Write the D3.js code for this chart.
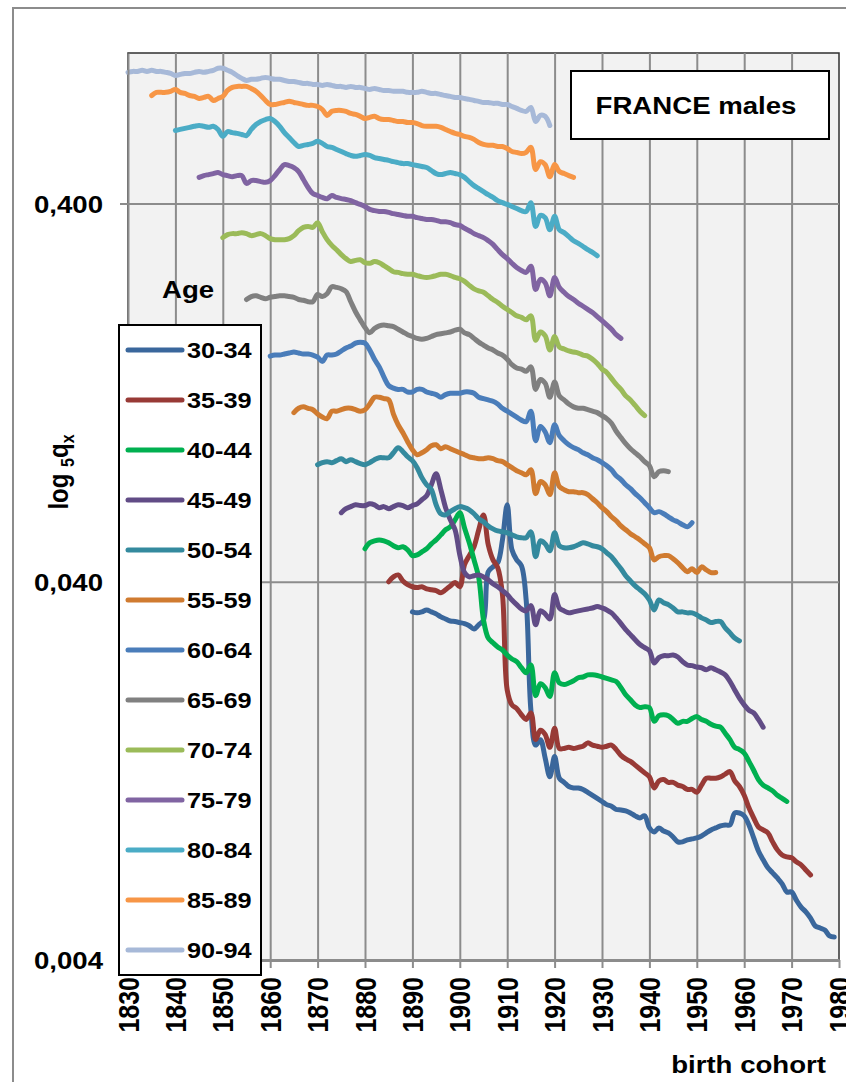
<!DOCTYPE html>
<html>
<head>
<meta charset="utf-8">
<script src="https://cdn.jsdelivr.net/npm/d3@7"></script>
<style>
  html, body { margin: 0; padding: 0; background: #ffffff; }
  svg { display: block; font-family: "Liberation Sans", Arial, sans-serif; font-weight: bold; }
</style>
</head>
<body>
<svg id="chart" width="846" height="1082"></svg>
<script>
// Age groups, first birth cohort of each series, and line colours
const ageGroups = ["30-34","35-39","40-44","45-49","50-54","55-59","60-64","65-69","70-74","75-79","80-84","85-89","90-94"];
const firstCohort = [1890,1885,1880,1875,1870,1865,1860,1855,1850,1845,1840,1835,1830];
const seriesColors = ["#3A679C","#983A36","#00B050","#614C86","#348A9E","#D07B30","#4A7DBA","#808080","#9BBB59","#8064A2","#4BACC6","#F79646","#A7B9D8"];

// 5qx by birth cohort (one value per cohort year, from firstCohort onwards)
const q30_34 = [
  .0333,.0331,.0333,.0337,.0333,.0329,.0323,.0319,.0315,.0314,
  .0312,.0310,.0306,.0300,.0308,.0317,.0425,.0438,.0449,.0516,
  .0639,.0486,.0457,.0441,.0358,.0183,.0148,.0153,.0137,.0122,
  .0138,.0121,.0118,.0115,.0114,.0114,.0113,.0111,.0109,.0107,
  .0105,.0103,.0102,.0100,.00997,.00991,.00979,.00962,.00950,.00962,
  .00894,.00872,.00894,.00877,.00867,.00846,.00821,.00821,.00831,.00836,
  .00841,.00851,.00867,.00883,.00894,.00905,.00910,.00910,.00979,.00979,
  .00962,.00910,.00841,.00777,.00736,.00701,.00680,.00659,.00636,.00605,
  .00605,.00576,.00552,.00536,.00516,.00492,.00486,.00480,.00463,.00460];
const q35_39 = [
  .0400,.0412,.0417,.0402,.0393,
  .0388,.0386,.0388,.0383,.0381,.0379,.0374,.0381,.0390,.0398,
  .0388,.0444,.0469,.0495,.0549,.0601,.0501,.0457,.0436,.0370,
  .0207,.0189,.0185,.0178,.0173,.0180,.0153,.0162,.0158,.0146,
  .0164,.0145,.0145,.0146,.0145,.0146,.0147,.0150,.0148,.0147,
  .0146,.0147,.0148,.0144,.0139,.0136,.0134,.0131,.0128,.0125,
  .0122,.0114,.0119,.0120,.0118,.0118,.0116,.0115,.0113,.0113,
  .0111,.0116,.0121,.0121,.0121,.0122,.0124,.0126,.0119,.0115,
  .0109,.0101,.00950,.00899,.00883,.00867,.00821,.00782,.00758,.00749,
  .00745,.00727,.00714,.00692,.00671];
const q40_44 = [
  .0489,.0507,.0513,.0516,.0513,.0507,.0498,.0492,.0495,.0486,
  .0469,.0471,.0480,.0489,.0504,.0516,.0532,.0549,.0559,.0583,
  .0609,.0555,.0507,.0457,.0410,.0317,.0284,.0276,.0269,.0264,
  .0256,.0250,.0246,.0237,.0230,.0241,.0200,.0215,.0210,.0199,
  .0230,.0216,.0214,.0216,.0219,.0223,.0224,.0227,.0227,.0226,
  .0224,.0222,.0220,.0218,.0210,.0201,.0195,.0189,.0186,.0187,
  .0186,.0171,.0177,.0178,.0177,.0173,.0169,.0171,.0171,.0174,
  .0176,.0173,.0171,.0168,.0166,.0165,.0159,.0153,.0146,.0144,
  .0141,.0134,.0127,.0120,.0116,.0114,.0112,.0109,.0107,.0105];
const q45_49 = [
  .0609,.0624,.0632,.0639,.0636,
  .0636,.0643,.0639,.0628,.0632,.0624,.0632,.0639,.0636,.0628,
  .0636,.0643,.0659,.0675,.0722,.0772,.0701,.0628,.0583,.0549,
  .0471,.0423,.0412,.0415,.0417,.0412,.0405,.0395,.0388,.0379,
  .0370,.0358,.0348,.0339,.0335,.0346,.0308,.0335,.0329,.0319,
  .0370,.0341,.0335,.0331,.0333,.0335,.0337,.0339,.0341,.0344,
  .0341,.0337,.0331,.0321,.0310,.0299,.0290,.0281,.0273,.0268,
  .0263,.0244,.0252,.0255,.0255,.0256,.0253,.0246,.0241,.0240,
  .0238,.0237,.0234,.0237,.0234,.0231,.0227,.0218,.0207,.0197,
  .0189,.0183,.0180,.0173,.0165];
const q50_54 = [
  .0816,.0826,.0831,.0826,.0836,.0846,.0831,.0841,.0831,.0821,
  .0816,.0826,.0841,.0851,.0851,.0851,.0877,.0905,.0883,.0856,
  .0836,.0801,.0754,.0722,.0701,.0639,.0605,.0601,.0613,.0624,
  .0632,.0628,.0620,.0605,.0587,.0576,.0562,.0552,.0545,.0542,
  .0539,.0532,.0526,.0523,.0523,.0542,.0466,.0513,.0504,.0483,
  .0539,.0498,.0492,.0492,.0495,.0501,.0507,.0504,.0498,.0495,
  .0489,.0477,.0466,.0449,.0433,.0415,.0402,.0390,.0381,.0372,
  .0358,.0337,.0358,.0352,.0348,.0341,.0333,.0333,.0331,.0331,
  .0327,.0321,.0317,.0312,.0314,.0314,.0302,.0293,.0284,.0279];
const q55_59 = [
  .112,.115,.116,.115,.114,
  .111,.109,.108,.113,.113,.114,.115,.115,.114,.113,
  .114,.118,.123,.123,.122,.121,.111,.104,.0991,.0938,
  .0894,.0867,.0877,.0894,.0916,.0921,.0899,.0910,.0899,.0888,
  .0877,.0867,.0856,.0851,.0846,.0846,.0851,.0846,.0836,.0831,
  .0816,.0801,.0786,.0777,.0767,.0791,.0684,.0736,.0722,.0680,
  .0777,.0714,.0701,.0692,.0692,.0688,.0688,.0680,.0663,.0647,
  .0628,.0613,.0594,.0580,.0562,.0549,.0536,.0526,.0516,.0504,
  .0492,.0457,.0466,.0469,.0469,.0460,.0449,.0436,.0425,.0433,
  .0423,.0438,.0430,.0423,.0423];
const q60_64 = [
  .158,.159,.159,.160,.161,.162,.161,.160,.160,.159,
  .157,.153,.159,.159,.160,.163,.166,.168,.171,.172,
  .171,.164,.155,.148,.139,.132,.130,.129,.129,.127,
  .127,.129,.129,.127,.126,.125,.123,.125,.126,.126,
  .126,.127,.127,.126,.123,.122,.121,.120,.118,.115,
  .113,.111,.109,.107,.106,.113,.0944,.103,.0997,.0933,
  .104,.0973,.0944,.0921,.0905,.0894,.0877,.0867,.0851,.0841,
  .0826,.0811,.0791,.0763,.0745,.0722,.0705,.0684,.0667,.0647,
  .0628,.0609,.0613,.0605,.0594,.0583,.0576,.0566,.0559,.0573];
const q65_69 = [
  .223,.227,.228,.226,.224,
  .226,.227,.228,.228,.227,.226,.223,.222,.220,.220,
  .230,.227,.231,.241,.240,.238,.234,.220,.207,.197,
  .188,.182,.187,.190,.191,.190,.189,.186,.183,.180,
  .178,.176,.175,.176,.178,.180,.181,.182,.183,.185,
  .186,.182,.180,.176,.172,.169,.166,.164,.161,.159,
  .155,.150,.147,.146,.144,.148,.129,.137,.134,.123,
  .135,.124,.121,.118,.116,.115,.115,.114,.113,.112,
  .110,.108,.105,.100,.0962,.0927,.0899,.0877,.0856,.0831,
  .0811,.0758,.0782,.0786,.0782];
const q70_74 = [
  .325,.331,.333,.333,.335,.333,.329,.331,.333,.329,
  .323,.321,.321,.321,.323,.329,.339,.346,.348,.346,
  .356,.337,.321,.310,.302,.293,.286,.281,.283,.284,
  .279,.278,.281,.279,.274,.269,.264,.263,.261,.260,
  .260,.258,.256,.255,.256,.258,.260,.260,.258,.255,
  .253,.249,.243,.238,.235,.233,.228,.223,.219,.214,
  .210,.206,.202,.200,.197,.202,.174,.183,.179,.164,
  .178,.167,.165,.163,.162,.161,.159,.158,.155,.151,
  .146,.143,.138,.133,.129,.124,.121,.117,.113,.110];
const q75_79 = [
  .469,.474,.477,.480,.483,
  .477,.474,.471,.474,.474,.452,.460,.460,.457,.455,
  .460,.474,.492,.507,.504,.498,.486,.463,.441,.425,
  .420,.415,.412,.420,.415,.412,.410,.407,.402,.398,
  .393,.386,.383,.381,.381,.379,.376,.374,.372,.370,
  .370,.367,.365,.363,.363,.361,.358,.358,.356,.352,
  .350,.344,.339,.333,.329,.325,.319,.312,.302,.293,
  .286,.278,.271,.266,.263,.273,.237,.252,.247,.228,
  .255,.240,.233,.227,.223,.218,.214,.210,.206,.201,
  .196,.191,.186,.180,.176];
const q80_84 = [
  .624,.628,.632,.636,.640,.643,.640,.636,.640,.628,
  .602,.620,.616,.613,.609,.605,.628,.647,.659,.667,
  .671,.659,.640,.616,.598,.580,.566,.570,.573,.577,
  .584,.577,.566,.563,.556,.549,.542,.536,.533,.536,
  .539,.536,.529,.526,.523,.520,.516,.513,.510,.510,
  .507,.504,.501,.498,.489,.480,.477,.480,.483,.480,
  .477,.469,.457,.446,.438,.430,.422,.415,.407,.402,
  .398,.393,.388,.383,.381,.402,.348,.372,.367,.341,
  .370,.341,.335,.327,.319,.314,.308,.302,.297,.291];
const q85_89 = [
  .772,.787,.787,.787,.792,
  .801,.787,.782,.772,.768,.758,.763,.768,.749,.758,
  .768,.796,.811,.816,.816,.816,.806,.792,.772,.749,
  .731,.731,.736,.740,.745,.740,.736,.731,.727,.727,
  .722,.709,.684,.701,.705,.705,.701,.692,.688,.680,
  .671,.676,.680,.671,.667,.667,.663,.659,.659,.655,
  .655,.651,.643,.640,.640,.640,.636,.628,.620,.613,
  .609,.602,.598,.591,.580,.573,.570,.570,.566,.566,
  .559,.549,.546,.542,.546,.563,.492,.516,.507,.471,
  .507,.486,.480,.474,.469];
const q90_94 = [
  .889,.894,.894,.900,.894,.900,.894,.894,.889,.883,
  .872,.878,.883,.883,.889,.894,.889,.894,.900,.911,
  .911,.900,.889,.872,.857,.846,.852,.852,.857,.862,
  .857,.852,.852,.846,.841,.841,.836,.831,.831,.826,
  .826,.821,.826,.821,.816,.816,.811,.816,.811,.811,
  .806,.801,.806,.801,.796,.796,.792,.792,.792,.787,
  .787,.787,.792,.787,.782,.782,.777,.772,.768,.763,
  .763,.758,.754,.749,.745,.740,.740,.736,.736,.731,
  .731,.722,.714,.705,.701,.718,.659,.684,.680,.643];

const ageSeries = [q30_34,q35_39,q40_44,q45_49,q50_54,q55_59,q60_64,q65_69,q70_74,q75_79,q80_84,q85_89,q90_94];

// Axis ticks
const xTickValues = [1830,1840,1850,1860,1870,1880,1890,1900,1910,1920,1930,1940,1950,1960,1970,1980];
const yTickValues = [0.004, 0.04, 0.4];
const yTickLabels = ["0,004","0,040","0,400"];
const yGridValues = [0.04, 0.4];

// ---------- drawing ----------
const svg = d3.select("#chart");
const plot = { left: 128, right: 839, top: 53, bottom: 960 };
const STRETCH = 1.15;            // text is drawn slightly wide
const gridColor = "#8c8c8c";

const x = d3.scaleLinear().domain([1830, 1980]).range([plot.left, plot.right]);
const y = d3.scaleLog().domain([0.004, 1]).range([plot.bottom, plot.top]);

// outer frame of the figure
svg.append("rect")
  .attr("x", 13).attr("y", 8).attr("width", 900).attr("height", 1100)
  .attr("fill", "#ffffff").attr("stroke", "#8c8c8c").attr("stroke-width", 2);

// plot area
svg.append("rect")
  .attr("x", plot.left).attr("y", plot.top)
  .attr("width", plot.right - plot.left).attr("height", plot.bottom - plot.top)
  .attr("fill", "#f2f2f2").attr("stroke", "#303030").attr("stroke-width", 1.5);

// vertical grid lines
svg.append("g")
  .attr("transform", `translate(0,${plot.bottom})`)
  .call(d3.axisBottom(x).tickValues(xTickValues.slice(1, -1))
    .tickSize(-(plot.bottom - plot.top)).tickSizeOuter(0).tickFormat(""))
  .call(g => g.select(".domain").remove())
  .selectAll("line").attr("stroke", gridColor).attr("stroke-width", 2);

// horizontal grid lines
svg.append("g")
  .attr("transform", `translate(${plot.left},0)`)
  .call(d3.axisLeft(y).tickValues(yGridValues)
    .tickSize(-(plot.right - plot.left)).tickSizeOuter(0).tickFormat(""))
  .call(g => g.select(".domain").remove())
  .selectAll("line").attr("stroke", gridColor).attr("stroke-width", 2);

// cohort lines
const line = d3.line()
  .x(d => x(d.year))
  .y(d => y(d.q))
  .curve(d3.curveCatmullRom.alpha(0.5));

const seriesData = ageSeries.map((vals, i) =>
  vals.map((q, j) => ({ year: firstCohort[i] + j, q })));

svg.append("g").selectAll("path")
  .data(seriesData)
  .join("path")
  .attr("d", line)
  .attr("fill", "none")
  .attr("stroke", (d, i) => seriesColors[i])
  .attr("stroke-width", 5)
  .attr("stroke-linejoin", "round")
  .attr("stroke-linecap", "round");

// y axis
const yAxis = svg.append("g")
  .attr("transform", `translate(${plot.left},0)`)
  .call(d3.axisLeft(y).tickValues(yTickValues)
    .tickFormat((d, i) => yTickLabels[i]).tickSize(8).tickSizeOuter(0));
yAxis.select(".domain").attr("stroke", gridColor).attr("stroke-width", 2);
yAxis.selectAll(".tick line").attr("stroke", gridColor).attr("stroke-width", 2);
yAxis.selectAll(".tick text")
  .attr("x", null).attr("dy", null)
  .attr("transform", `translate(-25,8.5) scale(${STRETCH},1)`)
  .attr("text-anchor", "end")
  .attr("fill", "#000").attr("font-size", 24)
  .attr("font-family", "'Liberation Sans', Arial, sans-serif").attr("font-weight", "bold");

// x axis
const xAxis = svg.append("g")
  .attr("transform", `translate(0,${plot.bottom})`)
  .call(d3.axisBottom(x).tickValues(xTickValues)
    .tickFormat(d3.format("d")).tickSize(8).tickSizeOuter(0));
xAxis.select(".domain").attr("stroke", gridColor).attr("stroke-width", 3);
xAxis.selectAll(".tick line").attr("stroke", gridColor).attr("stroke-width", 2);
xAxis.selectAll(".tick text")
  .attr("y", null).attr("dy", null)
  .attr("transform", `translate(10,17) scale(${STRETCH},1) rotate(-90)`)
  .attr("text-anchor", "end")
  .attr("fill", "#000").attr("font-size", 25)
  .attr("font-family", "'Liberation Sans', Arial, sans-serif").attr("font-weight", "bold");

// axis titles
const yTitle = svg.append("text")
  .attr("transform", `translate(68,472) scale(${STRETCH},1) rotate(-90)`)
  .attr("text-anchor", "middle")
  .attr("font-size", 24).attr("fill", "#000");
yTitle.append("tspan").text("log ");
yTitle.append("tspan").text("5").attr("font-size", 16).attr("dy", 5);
yTitle.append("tspan").text("q").attr("dy", -5);
yTitle.append("tspan").text("x").attr("font-size", 16).attr("dy", 5);

svg.append("text")
  .attr("transform", `translate(826,1073) scale(${STRETCH},1)`)
  .attr("text-anchor", "end").attr("font-size", 24).attr("fill", "#000")
  .text("birth cohort");

// title box
svg.append("rect")
  .attr("x", 571).attr("y", 71).attr("width", 258).attr("height", 68)
  .attr("fill", "#ffffff").attr("stroke", "#000").attr("stroke-width", 2);
svg.append("text")
  .attr("transform", `translate(696,114) scale(${STRETCH},1)`)
  .attr("text-anchor", "middle").attr("font-size", 24).attr("fill", "#000")
  .text("FRANCE males");

// legend
svg.append("text")
  .attr("transform", `translate(162,298) scale(${STRETCH},1)`)
  .attr("font-size", 24).attr("fill", "#000")
  .text("Age");

const legend = svg.append("g");
legend.append("rect")
  .attr("x", 119).attr("y", 325).attr("width", 142).attr("height", 650)
  .attr("fill", "#ffffff").attr("stroke", "#000").attr("stroke-width", 2);

const legendItems = legend.selectAll("g.item")
  .data(ageGroups)
  .join("g")
  .attr("class", "item")
  .attr("transform", (d, i) => `translate(0,${350 + i * 50})`);
legendItems.append("line")
  .attr("x1", 128).attr("x2", 182).attr("y1", 0).attr("y2", 0)
  .attr("stroke", (d, i) => seriesColors[i])
  .attr("stroke-width", 5).attr("stroke-linecap", "round");
legendItems.append("text")
  .attr("transform", `translate(187,8) scale(${STRETCH},1)`)
  .attr("font-size", 22).attr("fill", "#000")
  .text(d => d);
</script>
</body>
</html>
